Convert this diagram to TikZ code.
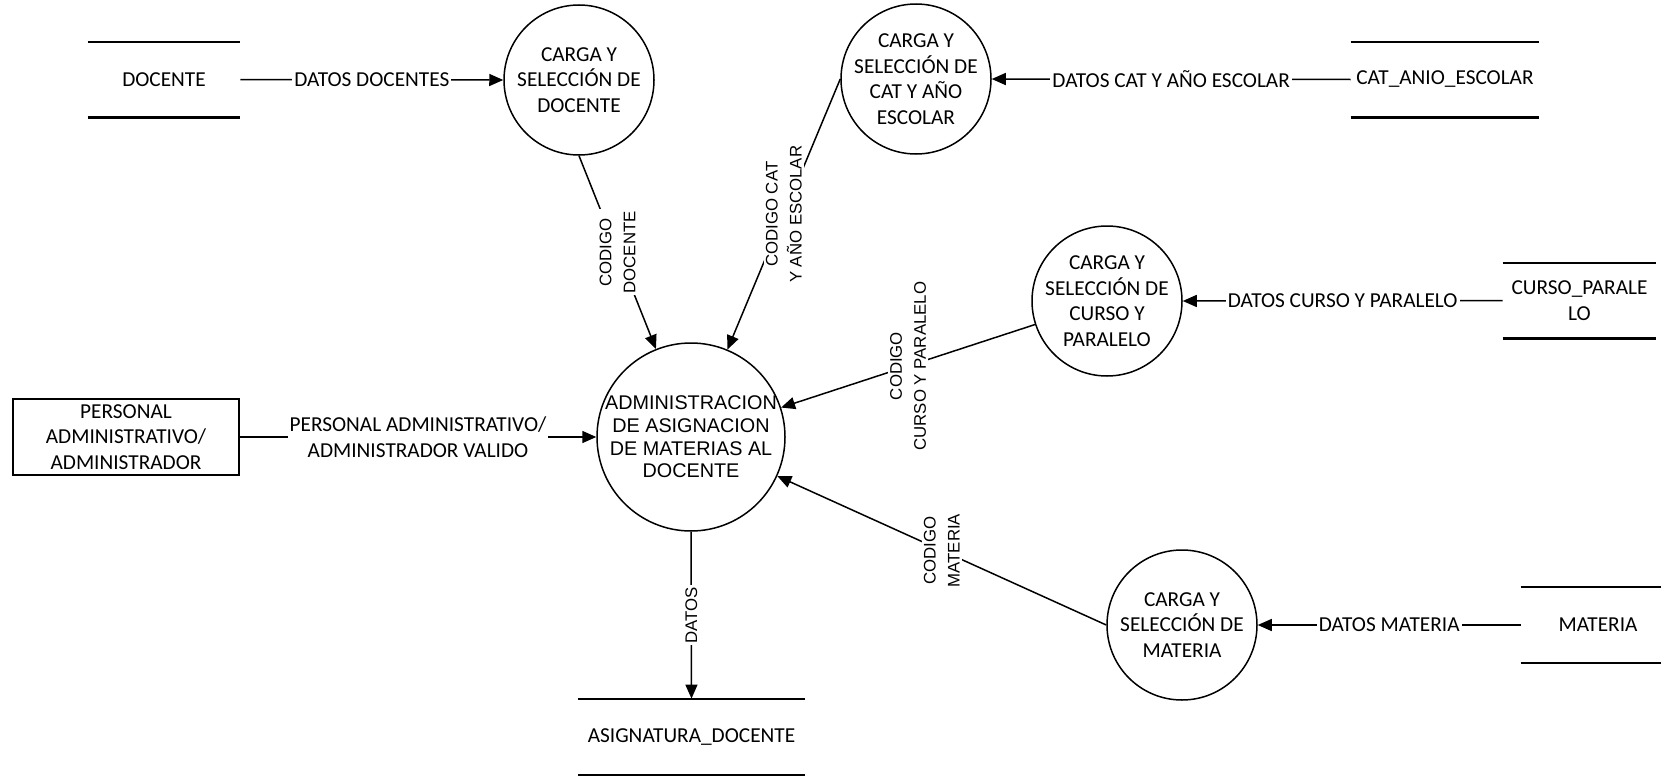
\documentclass[tikz,border=0pt]{standalone}
\usepackage{fontspec}
\setmainfont{Carlito}
\newfontfamily\arialf{Liberation Sans}
\usetikzlibrary{arrows.meta}
\begin{document}
\begin{tikzpicture}[x=0.5pt,y=-0.5pt,
  txt/.style={font=\fontsize{10.65pt}{12.75pt}\selectfont, align=center},
  proc/.style={circle, draw, line width=0.75pt, minimum size=75pt, inner sep=-3pt, txt},
  store/.style={rectangle, minimum height=37.5pt, inner sep=0pt, txt},
  sline/.style={line width=1.1pt},
  flow/.style={line width=0.75pt, -{Triangle[length=7pt,width=6pt]}},
  hlab/.style={fill=white, inner sep=1pt, txt},
  vlab/.style={fill=white, inner sep=1pt, rotate=90, align=center, font=\arialf\fontsize{8.4pt}{12pt}\selectfont}]
\useasboundingbox (0,0) rectangle (1661,776);

% data stores
\node[store, minimum width=76pt] (doc) at (164,79.5) {DOCENTE};
\node[store, minimum width=94pt] (cat) at (1445,79.5) {CAT\_ANIO\_ESCOLAR};
\node[store, minimum width=76.5pt] (cur) at (1579.5,300.5) {CURSO\_PARALE\\LO};
\node[store, minimum width=77pt] (mat) at (1598,625) {MATERIA};
\node[store, minimum width=113.5pt, minimum height=38pt] (asig) at (691.5,737) {ASIGNATURA\_DOCENTE};
\foreach \s in {doc,cat,cur,mat,asig}{
  \draw[sline] (\s.north west) -- (\s.north east) (\s.south west) -- (\s.south east);
}

% processes
\node[proc] (c1) at (579,80) {CARGA Y\\SELECCIÓN DE\\DOCENTE};
\node[proc] (c2) at (916,79) {CARGA Y\\SELECCIÓN DE\\CAT Y AÑO\\ESCOLAR};
\node[proc] (c3) at (1107,301) {CARGA Y\\SELECCIÓN DE\\CURSO Y\\PARALELO};
\node[proc] (c4) at (1182,625) {CARGA Y\\SELECCIÓN DE\\MATERIA};
\node[proc, minimum size=94pt, font=\arialf\fontsize{9.9pt}{11.35pt}\selectfont] (m) at (691,437)
  {ADMINISTRACION\\DE ASIGNACION\\DE MATERIAS AL\\DOCENTE};

% external entity
\node[draw, line width=0.75pt, minimum width=113pt, minimum height=38pt, inner sep=0pt, txt] (adm) at (126,437)
  {PERSONAL\\ADMINISTRATIVO/\\ADMINISTRADOR};

% flows
\draw[flow] (doc.east) -- node[hlab]{DATOS DOCENTES} (c1.west);
\draw[flow] (cat.west) -- node[hlab]{DATOS CAT Y AÑO ESCOLAR} (c2.east);
\draw[flow] (cur.west) -- node[hlab]{DATOS CURSO Y PARALELO} (c3.east);
\draw[flow] (mat.west) -- node[hlab]{DATOS MATERIA} (c4.east);
\draw[flow] (adm.east) -- node[hlab]{PERSONAL ADMINISTRATIVO/\\ADMINISTRADOR VALIDO} (m.west);
\draw[flow] (m.south) -- node[vlab]{DATOS} (asig.north);
\draw[flow] (c1.south) -- node[vlab]{CODIGO\\DOCENTE} (m);
\draw[flow] (c2.west) -- node[vlab]{CODIGO CAT\\Y AÑO ESCOLAR} (m);
\draw[flow] (c3) -- node[vlab]{CODIGO\\CURSO Y PARALELO} (m);
\draw[flow] (c4.west) -- node[vlab]{CODIGO\\MATERIA} (m);
\end{tikzpicture}
\end{document}
